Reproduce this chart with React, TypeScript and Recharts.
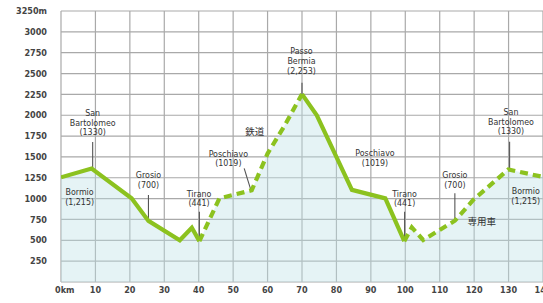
import {
  ComposedChart,
  Line,
  Area,
  XAxis,
  YAxis,
  CartesianGrid,
  ReferenceLine,
  ReferenceDot,
} from "recharts";

// elevation profile, km / metres
const SOLID_1 = [
  { km: 0, elev: 1255 },
  { km: 8.9, elev: 1360 },
  { km: 20.5, elev: 1005 },
  { km: 25.4, elev: 733 },
  { km: 34.5, elev: 500 },
  { km: 38, elev: 650 },
  { km: 40.2, elev: 490 },
];
const DASHED_1 = [
  { km: 40.2, elev: 490 },
  { km: 46, elev: 1003 },
  { km: 55.4, elev: 1100 },
  { km: 60, elev: 1540 },
  { km: 65, elev: 1880 },
  { km: 70, elev: 2253 },
];
const SOLID_2 = [
  { km: 70, elev: 2253 },
  { km: 74.3, elev: 2000 },
  { km: 84.5, elev: 1105 },
  { km: 94.2, elev: 1003 },
  { km: 99.7, elev: 490 },
];
const DASHED_2 = [
  { km: 99.7, elev: 490 },
  { km: 101.9, elev: 655 },
  { km: 105.2, elev: 504 },
  { km: 114.4, elev: 735 },
  { km: 119.7, elev: 983 },
  { km: 129.9, elev: 1350 },
  { km: 140, elev: 1260 },
];

const PROFILE = [...SOLID_1, ...DASHED_1.slice(1), ...SOLID_2.slice(1), ...DASHED_2.slice(1)];

const X_TICKS = [0, 10, 20, 30, 40, 50, 60, 70, 80, 90, 100, 110, 120, 130, 140];
const Y_TICKS = [0, 250, 500, 750, 1000, 1250, 1500, 1750, 2000, 2250, 2500, 2750, 3000, 3250];

// place labels: anchor is centre x / first baseline
const LABELS = [
  { km: 9.2, elev: 1990, lines: ["San", "Bartolomeo", "(1330)"] },
  { km: 5.4, elev: 1043, lines: ["Bormio", "(1,215)"] },
  { km: 25.4, elev: 1245, lines: ["Grosio", "(700)"] },
  { km: 40.1, elev: 1025, lines: ["Tirano", "(441)"] },
  { km: 48.6, elev: 1505, lines: ["Poschiavo", "(1019)"] },
  { km: 56.3, elev: 1757, lines: ["鉄道"], cjk: true },
  { km: 69.85, elev: 2731, lines: ["Passo", "Bermia", "(2,253)"] },
  { km: 91.2, elev: 1511, lines: ["Poschiavo", "(1019)"] },
  { km: 99.8, elev: 1025, lines: ["Tirano", "(441)"] },
  { km: 114.4, elev: 1245, lines: ["Grosio", "(700)"] },
  { km: 122.2, elev: 689, lines: ["専用車"], cjk: true },
  { km: 130.7, elev: 2002, lines: ["San", "Bartolomeo", "(1330)"] },
  { km: 135.0, elev: 1055, lines: ["Bormio", "(1,215)"] },
];

const LEADERS = [
  [{ x: 9.2, y: 1679 }, { x: 9.2, y: 1367 }],
  [{ x: 25.4, y: 1043 }, { x: 25.4, y: 731 }],
  [{ x: 40.2, y: 843 }, { x: 40.2, y: 500 }],
  [{ x: 53.2, y: 1363 }, { x: 55.1, y: 1111 }],
  [{ x: 70, y: 2390 }, { x: 70, y: 2253 }],
  [{ x: 99.8, y: 843 }, { x: 99.8, y: 495 }],
  [{ x: 114.4, y: 1063 }, { x: 114.4, y: 731 }],
  [{ x: 130.3, y: 1682 }, { x: 130.3, y: 1363 }],
];

const GREEN = "#8cc21f";
const FONT = "'DejaVu Sans Condensed', 'DejaVu Sans', Roboto, sans-serif";

const AxisTickX = ({ x, y, payload }: any) => (
  <text
    x={payload.value === 0 ? x - 6 : x}
    y={y}
    dy="0.71em"
    textAnchor={payload.value === 0 ? "start" : "middle"}
    fill="#444"
    fontSize={9}
    fontWeight="bold"
    fontFamily={FONT}
  >
    {payload.value === 0 ? "0km" : payload.value}
  </text>
);

const AxisTickY = ({ x, y, payload }: any) => {
  if (payload.value === 0) return null;
  return (
    <text x={x} y={y} dy="0.35em" textAnchor="end" fill="#444" fontSize={9} fontWeight="bold" fontFamily={FONT}>
      {payload.value === 3250 ? "3250m" : payload.value}
    </text>
  );
};

const labelShape = (lines: string[], cjk?: boolean) => (props: any) => (
  <text
    x={props.cx}
    y={props.cy}
    textAnchor="middle"
    fill="#333"
    fontSize={cjk ? 9.5 : 8.8}
    fontFamily={cjk ? "'Noto Sans CJK JP', sans-serif" : FONT}
  >
    {lines.map((l, i) => (
      <tspan key={i} x={props.cx} dy={i === 0 ? 0 : 9.7}>
        {l}
      </tspan>
    ))}
  </text>
);

export default function App() {
  return (
    <div style={{ position: "absolute", left: 0, top: 0, width: 543, height: 303, background: "#fff" }}>
      <ComposedChart width={543} height={303} margin={{ top: 11, right: 0, left: 0, bottom: 0 }}>
        <CartesianGrid stroke="#a9a9a9" strokeWidth={1.2} />
        <XAxis
          type="number"
          dataKey="km"
          domain={[0, 140]}
          ticks={X_TICKS}
          interval={0}
          allowDataOverflow
          axisLine={false}
          tickLine={false}
          tickSize={0}
          tickMargin={5}
          height={21}
          tick={<AxisTickX />}
        />
        <YAxis
          type="number"
          domain={[0, 3250]}
          ticks={Y_TICKS}
          interval={0}
          axisLine={false}
          tickLine={false}
          tickSize={0}
          tickMargin={14}
          width={61}
          tick={<AxisTickY />}
        />
        <Area
          data={PROFILE}
          dataKey="elev"
          type="linear"
          stroke="none"
          fill="#bfe0e6"
          fillOpacity={0.4}
          isAnimationActive={false}
        />
        {LEADERS.map((seg, i) => (
          <ReferenceLine key={"l" + i} segment={seg} stroke="#555" strokeWidth={1.1} />
        ))}
        <Line data={SOLID_1} dataKey="elev" type="linear" stroke={GREEN} strokeWidth={4.2} dot={false} isAnimationActive={false} />
        <Line
          data={DASHED_1}
          dataKey="elev"
          type="linear"
          stroke={GREEN}
          strokeWidth={4.2}
          strokeDasharray="8 5"
          dot={false}
          isAnimationActive={false}
        />
        <Line data={SOLID_2} dataKey="elev" type="linear" stroke={GREEN} strokeWidth={4.2} dot={false} isAnimationActive={false} />
        <Line
          data={DASHED_2}
          dataKey="elev"
          type="linear"
          stroke={GREEN}
          strokeWidth={4.2}
          strokeDasharray="8 5"
          dot={false}
          isAnimationActive={false}
        />
        {LABELS.map((a, i) => (
          <ReferenceDot key={"a" + i} x={a.km} y={a.elev} r={0} shape={labelShape(a.lines, a.cjk)} />
        ))}
      </ComposedChart>
    </div>
  );
}
